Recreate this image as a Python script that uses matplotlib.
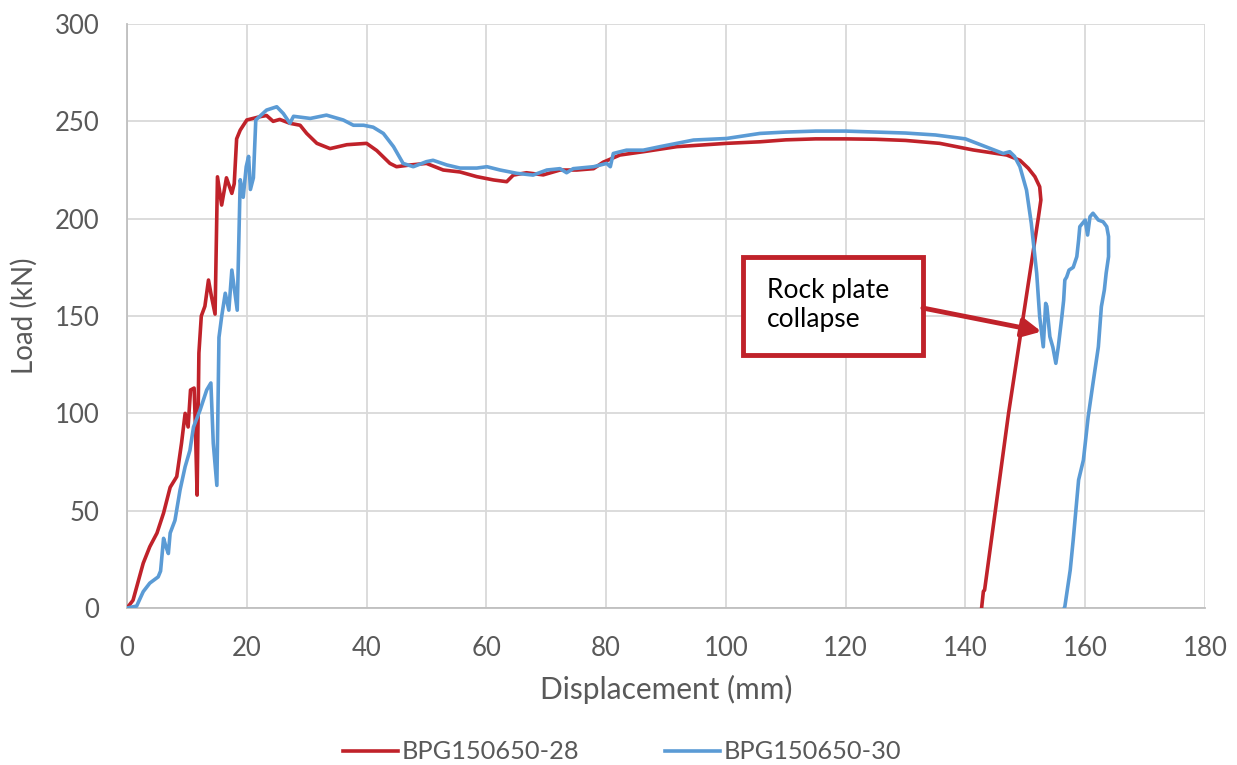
import matplotlib
matplotlib.use('Agg')
import matplotlib.pyplot as plt
from matplotlib.patches import Rectangle

# ================================
# Data
# ================================
red_x = [0, 1.0, 2.7, 3.8, 5.0, 6.1, 7.2, 8.3, 9.1, 9.7, 10.2, 10.6, 11.2, 11.4, 11.7, 12.0,
         12.4, 13.0, 13.6, 14.1, 14.7, 15.1, 15.8, 16.6, 17.5, 17.9, 18.3, 18.9, 20.0, 22.2,
         23.3, 24.4, 25.5, 27.2, 28.9, 30.0, 31.7, 33.9, 36.7, 40.0, 41.7, 43.9, 45.0, 47.3,
         50.0, 52.8, 55.6, 58.4, 61.2, 63.4, 64.5, 66.7, 69.5, 72.3, 75.1, 77.9, 79.5, 82.3,
         86.2, 91.8, 100.1, 105.7, 110, 115, 120, 125, 130, 135.7, 141.3, 146.9, 149.1, 150.5,
         151.6, 152.4, 152.6, 152.2, 147.2, 143.2, 143.0, 142.7]
red_y = [0, 4, 23, 31.5, 38.5, 48.8, 62, 67.5, 84.7, 100, 93, 112, 113, 95, 58, 131,
         150, 155, 168.5, 160, 151, 221.5, 207, 221, 213, 218, 241, 245.5, 250.7, 252.4,
         253, 250, 251, 249, 248, 243.8, 238.7, 236, 238, 238.7, 235, 228.4, 226.7, 227.6,
         228.4, 225, 224, 221.6, 219.9, 219, 222.4, 223.6, 222.5, 225, 225, 225.7, 229, 232.7,
         234.4, 237, 238.7, 239.5, 240.5, 241, 241, 240.8, 240.2, 238.7, 235.3, 232.7, 230, 225.9,
         221.6, 216.4, 209.6, 201, 100, 9.2, 8.6, 0]

blue_x = [0, 1.6, 2.7, 3.8, 5.2, 5.6, 6.1, 6.5, 6.9, 7.2, 8.0, 8.85, 9.7, 10.5, 11.1, 12.2,
          13.3, 14.0, 14.4, 15.0, 15.35, 15.8, 16.4, 17.0, 17.5, 18.4, 18.9, 19.4, 19.9, 20.3,
          20.6, 21.1, 21.5, 23.3, 25.0, 26.1, 27.2, 27.8, 30.6, 33.3, 36.1, 37.8, 39.5, 41.1,
          42.8, 44.5, 46.1, 47.8, 50, 51.1, 53.4, 55.6, 58.4, 60.1, 62.3, 65.1, 67.8, 70.1,
          72.3, 73.4, 74.5, 77.9, 80.1, 80.7, 81.2, 83.4, 86.2, 89, 94.6, 100.1, 105.7, 110,
          115, 120, 125, 130, 135, 140, 146.3, 147.4, 148.2, 149.1, 150.2, 151.0, 151.9, 152.4,
          153.0, 153.4, 153.6, 154.1, 154.6, 155.1, 155.5, 156.1, 156.4, 156.6, 156.9, 157.3,
          158.0, 158.6, 158.9, 159.1, 160.0, 160.4, 160.8, 161.3, 162.2, 163.0, 163.6, 163.9,
          163.9, 163.5, 163.2, 162.7, 162.2, 161.3, 160.5, 159.7, 158.9, 158.0, 157.5, 156.6,
          156.5]
blue_y = [0, 1, 8.4, 12.8, 16, 19, 35.8, 31.5, 28, 38.5, 45, 60.6, 72.6, 81, 93, 101.7,
          112, 115.6, 84.6, 63, 139, 149.7, 161.7, 153, 173.6, 153, 220, 211, 226.7, 232,
          215, 221, 250.7, 255.8, 257.5, 254, 249, 252.6, 251.5, 253.2, 250.7, 248, 248, 247,
          243.8, 237, 228.4, 226.7, 229.3, 230, 227.6, 226, 226, 226.7, 225, 223.3, 222.4, 225,
          225.7, 223.6, 225.7, 226.7, 228.4, 226.7, 233.5, 235.2, 235.2, 237, 240.4, 241.2, 243.8, 244.5,
          245, 245, 244.5, 244, 243, 241, 233.5, 234.4, 232, 226.7, 214.7, 197.6, 172, 149.6,
          134.2, 156.5, 155, 139.4, 134, 125.7, 134, 149.6, 158, 168.5, 170, 173.6,
          175, 180.5, 189, 195.9, 199.3, 191.6, 201, 202.8, 199.3, 198.4, 195.9, 190.8,
          180.5, 172, 163.4, 154.8, 134.2, 115.4, 98.3, 76, 65.8, 35, 19.5, 0.7,
          0]

series_names = ["BPG150650-28", "BPG150650-30"]
x_ticks = list(range(0, 181, 20))
y_ticks = list(range(0, 301, 50))

RED = '#C0222A'
BLUE = '#5B9BD5'
GRID = '#D9D9D9'
TXT = '#595959'

plt.rcParams['font.family'] = ['Lato', 'DejaVu Sans']

# ================================
# Plot
# ================================
fig = plt.figure(figsize=(12.37, 7.65), dpi=100)
ax = fig.add_axes([0.1027, 0.2052, 0.9741 - 0.1027, 0.9686 - 0.2052])

ax.plot(red_x, red_y, color=RED, lw=2.6, label=series_names[0], zorder=3)
ax.plot(blue_x, blue_y, color=BLUE, lw=2.6, label=series_names[1], zorder=3)

ax.set_xlim(0, 180)
ax.set_ylim(0, 300)
ax.set_xticks(x_ticks)
ax.set_yticks(y_ticks)
ax.grid(True, color=GRID, lw=1.3, zorder=0)
ax.tick_params(axis='x', length=0, labelsize=18.5, labelcolor=TXT, pad=20)
ax.tick_params(axis='y', length=0, labelsize=18.5, labelcolor=TXT, pad=20)
for s in ['top', 'right']:
    ax.spines[s].set_visible(False)
for s in ['left', 'bottom']:
    ax.spines[s].set_color('#BFBFBF')
    ax.spines[s].set_linewidth(1.3)

ax.set_xlabel("Displacement (mm)", fontsize=21.5, color=TXT, labelpad=10)
ax.set_ylabel("Load (kN)", fontsize=20, color=TXT, labelpad=12)

# annotation box + arrow
box = Rectangle((102.9, 130), 30.0, 50.5, facecolor='white', edgecolor=RED,
                lw=3.5, zorder=5)
ax.add_patch(box)
ax.text(106.9, 155.5, "Rock plate\ncollapse", fontsize=19, color='black',
        va='center', ha='left', linespacing=1.2, zorder=6)
ax.annotate('', xy=(152.7, 142), xytext=(132.9, 154.1),
            arrowprops=dict(arrowstyle='-|>', color=RED, lw=3.5, mutation_scale=28,
                            shrinkA=0, shrinkB=0),
            zorder=6)

fig.legend(loc='center', bbox_to_anchor=(0.503, 0.017), ncol=2, frameon=False,
           fontsize=18.3, handlelength=2.17, columnspacing=3.35, handletextpad=0.16,
           labelcolor=TXT)

fig.savefig("out.png", dpi=100)
